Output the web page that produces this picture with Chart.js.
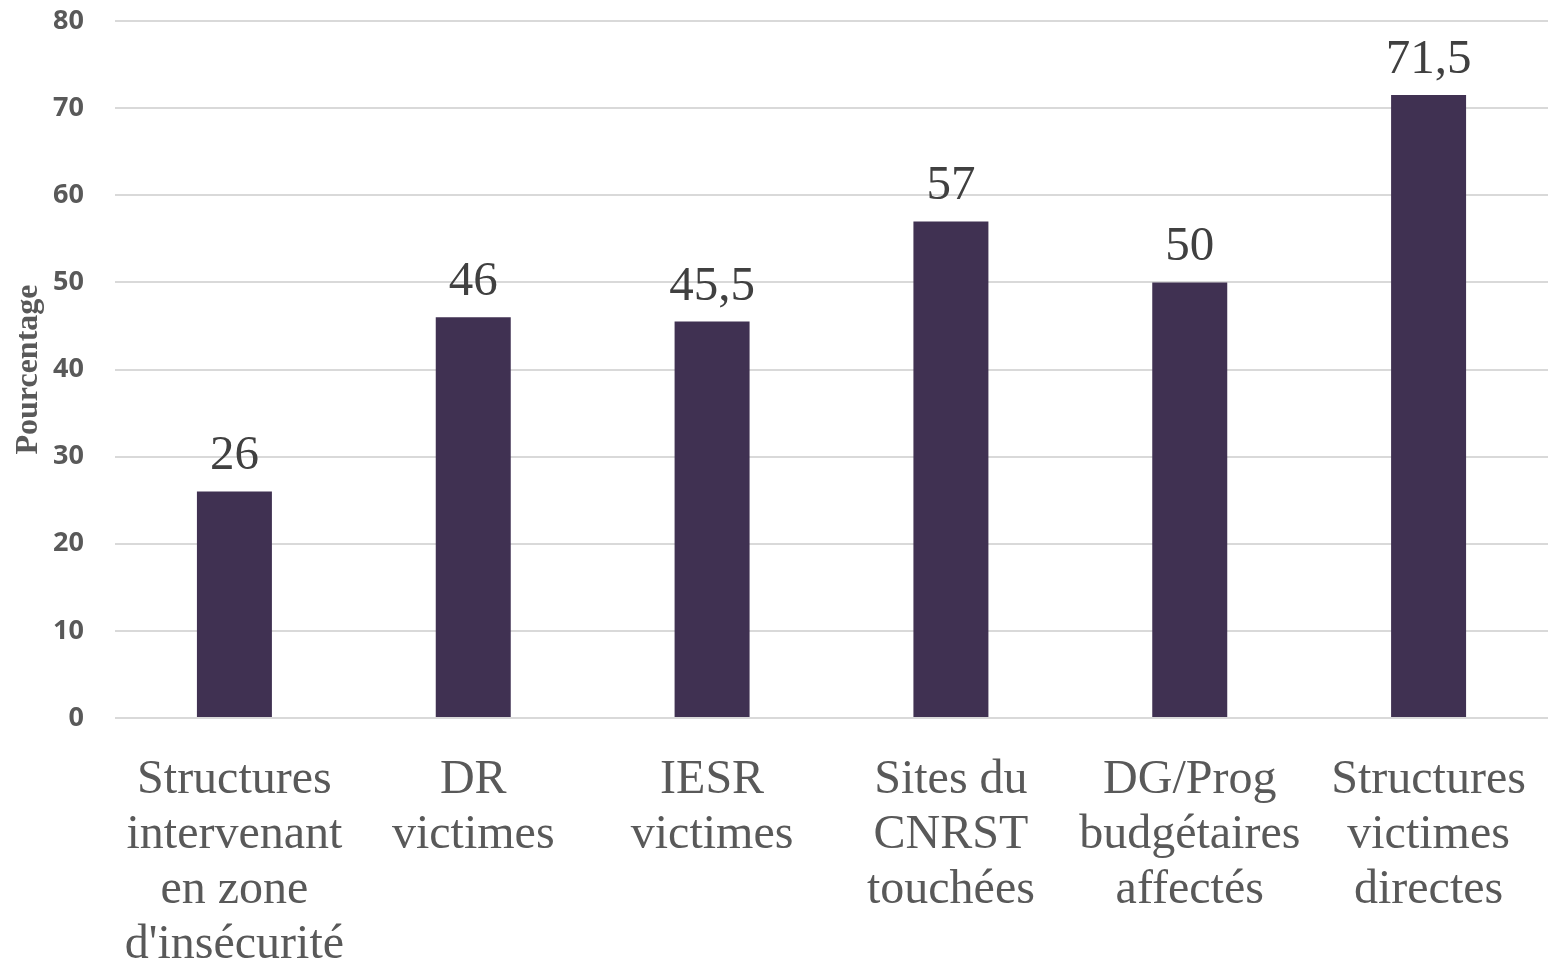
<!DOCTYPE html>
<html>
<head>
<meta charset="utf-8">
<script src="https://cdn.jsdelivr.net/npm/chart.js@4/dist/chart.umd.min.js"></script>
<style>
  html, body { margin: 0; padding: 0; background: #ffffff; }
  #wrap { width: 1548px; height: 959px; position: relative; }
</style>
</head>
<body>
<div id="wrap"><canvas id="c"></canvas></div>
<script>
const categories = [
  ["Structures", "intervenant", "en zone", "d'insécurité"],
  ["DR", "victimes"],
  ["IESR", "victimes"],
  ["Sites du", "CNRST", "touchées"],
  ["DG/Prog", "budgétaires", "affectés"],
  ["Structures", "victimes", "directes"]
];
const values = [26, 46, 45.5, 57, 50, 71.5];
const yTicks = [0, 10, 20, 30, 40, 50, 60, 70, 80];
const yTitle = "Pourcentage";

const valueLabels = {
  id: 'valueLabels',
  afterDatasetsDraw(chart) {
    const ctx = chart.ctx;
    const meta = chart.getDatasetMeta(0);
    ctx.save();
    ctx.font = '49px "Liberation Serif", "Times New Roman", serif';
    ctx.fillStyle = '#404040';
    ctx.textAlign = 'center';
    ctx.textBaseline = 'alphabetic';
    meta.data.forEach((bar, i) => {
      const v = chart.data.datasets[0].data[i];
      ctx.fillText(String(v).replace('.', ','), bar.x, bar.y - 22);
    });
    ctx.restore();
  }
};

new Chart(document.getElementById('c'), {
  type: 'bar',
  data: {
    labels: categories,
    datasets: [{
      data: values,
      backgroundColor: '#403152',
      borderWidth: 0,
      barPercentage: 0.314,
      categoryPercentage: 1.0
    }]
  },
  options: {
    responsive: true,
    maintainAspectRatio: false,
    animation: false,
    layout: { padding: { left: 0, right: 0, top: 21, bottom: 0 } },
    plugins: {
      legend: { display: false },
      tooltip: { enabled: false }
    },
    scales: {
      x: {
        grid: { display: false, drawTicks: false },
        border: { display: false },
        ticks: {
          color: '#595959',
          padding: 35,
          maxRotation: 0,
          autoSkip: false,
          font: { family: '"Liberation Serif", "Times New Roman", serif', size: 48, lineHeight: 1.146 }
        },
        afterFit(scale) { scale.height = 241; scale.paddingLeft = 0; scale.paddingRight = 0; }
      },
      y: {
        min: 0,
        max: 80,
        afterBuildTicks(scale) { scale.ticks = yTicks.map(v => ({ value: v })); },
        grid: { color: '#d9d9d9', lineWidth: 2, drawTicks: false },
        border: { display: false },
        ticks: {
          color: '#595959',
          padding: 31,
          font: { family: '"Open Sans", sans-serif', size: 27, weight: 'bold' }
        },
        title: {
          display: true,
          text: yTitle,
          color: '#595959',
          padding: { top: 10, bottom: 0 },
          font: { family: '"Liberation Serif", "Times New Roman", serif', size: 32, weight: 'bold' }
        },
        afterFit(scale) { scale.width = 115; scale.paddingTop = 0; scale.paddingBottom = 0; }
      }
    }
  },
  plugins: [valueLabels]
});
</script>
</body>
</html>
